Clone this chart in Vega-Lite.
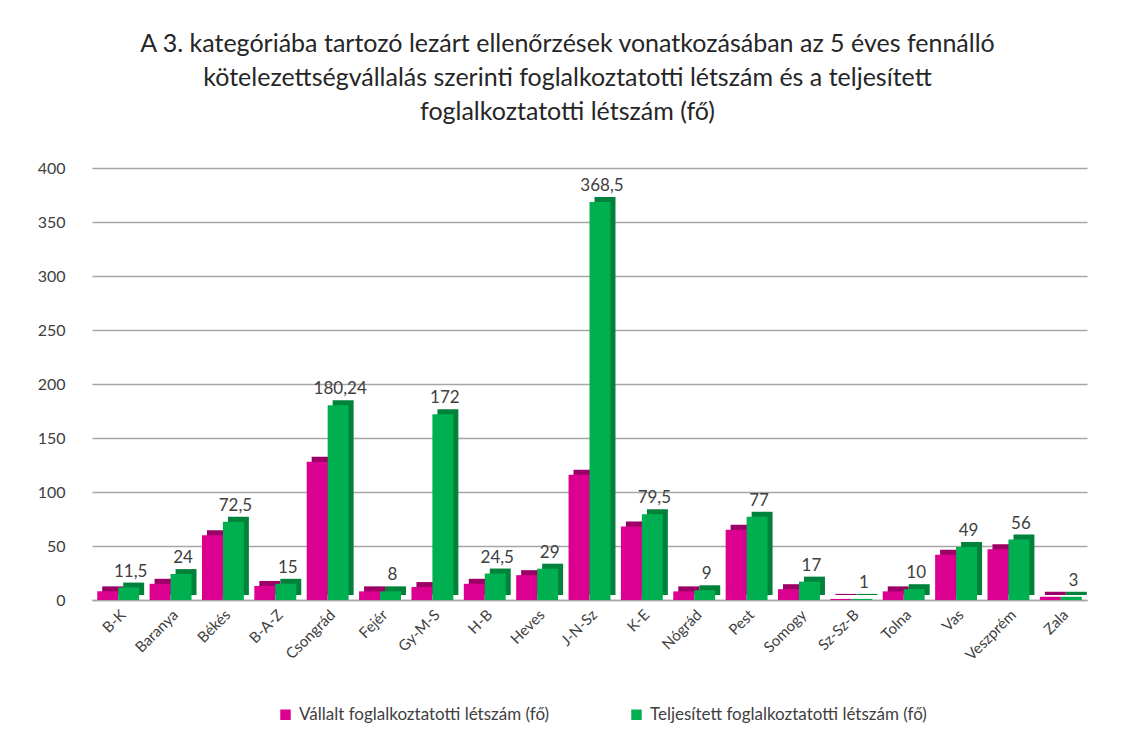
{
  "$schema": "https://vega.github.io/schema/vega-lite/v6.json",
  "width": 995,
  "height": 432,
  "autosize": "none",
  "padding": {"left": 92, "top": 168, "right": 37, "bottom": 142},
  "background": "white",
  "title": {
    "text": [
      "A 3. kategóriába tartozó lezárt ellenőrzések vonatkozásában az 5 éves fennálló",
      "kötelezettségvállalás szerinti foglalkoztatotti létszám és a teljesített",
      "foglalkoztatotti létszám (fő)"
    ],
    "anchor": "middle",
    "frame": "group",
    "dx": -22,
    "offset": 35,
    "font": "Lato",
    "fontSize": 25,
    "fontWeight": "normal",
    "lineHeight": 34,
    "color": "#262626"
  },
  "data": {
    "values": [
      {"megye": "B-K", "sorozat": "Vállalt foglalkoztatotti létszám (fő)", "fo": 8},
      {"megye": "B-K", "sorozat": "Teljesített foglalkoztatotti létszám (fő)", "fo": 11.5},
      {"megye": "Baranya", "sorozat": "Vállalt foglalkoztatotti létszám (fő)", "fo": 15},
      {"megye": "Baranya", "sorozat": "Teljesített foglalkoztatotti létszám (fő)", "fo": 24},
      {"megye": "Békés", "sorozat": "Vállalt foglalkoztatotti létszám (fő)", "fo": 60},
      {"megye": "Békés", "sorozat": "Teljesített foglalkoztatotti létszám (fő)", "fo": 72.5},
      {"megye": "B-A-Z", "sorozat": "Vállalt foglalkoztatotti létszám (fő)", "fo": 13},
      {"megye": "B-A-Z", "sorozat": "Teljesített foglalkoztatotti létszám (fő)", "fo": 15},
      {"megye": "Csongrád", "sorozat": "Vállalt foglalkoztatotti létszám (fő)", "fo": 128},
      {"megye": "Csongrád", "sorozat": "Teljesített foglalkoztatotti létszám (fő)", "fo": 180.24},
      {"megye": "Fejér", "sorozat": "Vállalt foglalkoztatotti létszám (fő)", "fo": 8},
      {"megye": "Fejér", "sorozat": "Teljesített foglalkoztatotti létszám (fő)", "fo": 8},
      {"megye": "Gy-M-S", "sorozat": "Vállalt foglalkoztatotti létszám (fő)", "fo": 12},
      {"megye": "Gy-M-S", "sorozat": "Teljesített foglalkoztatotti létszám (fő)", "fo": 172},
      {"megye": "H-B", "sorozat": "Vállalt foglalkoztatotti létszám (fő)", "fo": 15},
      {"megye": "H-B", "sorozat": "Teljesített foglalkoztatotti létszám (fő)", "fo": 24.5},
      {"megye": "Heves", "sorozat": "Vállalt foglalkoztatotti létszám (fő)", "fo": 23},
      {"megye": "Heves", "sorozat": "Teljesített foglalkoztatotti létszám (fő)", "fo": 29},
      {"megye": "J-N-Sz", "sorozat": "Vállalt foglalkoztatotti létszám (fő)", "fo": 116},
      {"megye": "J-N-Sz", "sorozat": "Teljesített foglalkoztatotti létszám (fő)", "fo": 368.5},
      {"megye": "K-E", "sorozat": "Vállalt foglalkoztatotti létszám (fő)", "fo": 68},
      {"megye": "K-E", "sorozat": "Teljesített foglalkoztatotti létszám (fő)", "fo": 79.5},
      {"megye": "Nógrád", "sorozat": "Vállalt foglalkoztatotti létszám (fő)", "fo": 8},
      {"megye": "Nógrád", "sorozat": "Teljesített foglalkoztatotti létszám (fő)", "fo": 9},
      {"megye": "Pest", "sorozat": "Vállalt foglalkoztatotti létszám (fő)", "fo": 65},
      {"megye": "Pest", "sorozat": "Teljesített foglalkoztatotti létszám (fő)", "fo": 77},
      {"megye": "Somogy", "sorozat": "Vállalt foglalkoztatotti létszám (fő)", "fo": 10},
      {"megye": "Somogy", "sorozat": "Teljesített foglalkoztatotti létszám (fő)", "fo": 17},
      {"megye": "Sz-Sz-B", "sorozat": "Vállalt foglalkoztatotti létszám (fő)", "fo": 1},
      {"megye": "Sz-Sz-B", "sorozat": "Teljesített foglalkoztatotti létszám (fő)", "fo": 1},
      {"megye": "Tolna", "sorozat": "Vállalt foglalkoztatotti létszám (fő)", "fo": 8},
      {"megye": "Tolna", "sorozat": "Teljesített foglalkoztatotti létszám (fő)", "fo": 10},
      {"megye": "Vas", "sorozat": "Vállalt foglalkoztatotti létszám (fő)", "fo": 42},
      {"megye": "Vas", "sorozat": "Teljesített foglalkoztatotti létszám (fő)", "fo": 49},
      {"megye": "Veszprém", "sorozat": "Vállalt foglalkoztatotti létszám (fő)", "fo": 47},
      {"megye": "Veszprém", "sorozat": "Teljesített foglalkoztatotti létszám (fő)", "fo": 56},
      {"megye": "Zala", "sorozat": "Vállalt foglalkoztatotti létszám (fő)", "fo": 3},
      {"megye": "Zala", "sorozat": "Teljesített foglalkoztatotti létszám (fő)", "fo": 3}
    ]
  },
  "encoding": {
    "x": {
      "field": "megye",
      "type": "nominal",
      "sort": null,
      "scale": {"paddingInner": 0.2, "paddingOuter": 0.1},
      "axis": {
        "title": null,
        "labelAngle": -45,
        "labelFont": "Lato",
        "labelFontSize": 15,
        "labelColor": "#404040",
        "labelPadding": 7,
        "ticks": false,
        "domainColor": "#a6a6a6",
        "domainWidth": 1.5,
        "grid": false
      }
    },
    "y": {
      "field": "fo",
      "type": "quantitative",
      "scale": {"domain": [0, 400], "nice": false},
      "axis": {
        "title": null,
        "values": [0, 50, 100, 150, 200, 250, 300, 350, 400],
        "labelFont": "Lato",
        "labelFontSize": 16,
        "labelColor": "#404040",
        "labelPadding": 27,
        "ticks": false,
        "domain": false,
        "gridColor": "#a6a6a6",
        "gridWidth": 1.5
      }
    }
  },
  "layer": [
    {
      "transform": [{"filter": "datum.sorozat === 'Vállalt foglalkoztatotti létszám (fő)'"}],
      "mark": {"type": "bar", "width": {"band": 0.5}, "xOffset": -5.5, "yOffset": -5, "color": "#9c0066"}
    },
    {
      "transform": [{"filter": "datum.sorozat === 'Teljesített foglalkoztatotti létszám (fő)'"}],
      "mark": {"type": "bar", "width": {"band": 0.5}, "xOffset": 15.5, "yOffset": -5, "color": "#00823a"}
    },
    {
      "mark": {"type": "bar"},
      "encoding": {
        "xOffset": {
          "field": "sorozat",
          "type": "nominal",
          "sort": ["Vállalt foglalkoztatotti létszám (fő)", "Teljesített foglalkoztatotti létszám (fő)"]
        },
        "color": {
          "field": "sorozat",
          "type": "nominal",
          "sort": ["Vállalt foglalkoztatotti létszám (fő)", "Teljesített foglalkoztatotti létszám (fő)"],
          "scale": {"range": ["#dc0090", "#00b050"]},
          "legend": {
            "title": null,
            "orient": "none",
            "direction": "horizontal",
            "legendX": 185,
            "legendY": 538,
            "symbolType": "square",
            "symbolSize": 110,
            "symbolStrokeWidth": 0,
            "labelFont": "Lato",
            "labelFontSize": 17,
            "labelColor": "#404040",
            "labelLimit": 400,
            "columnPadding": 78,
            "labelOffset": 5
          }
        }
      }
    },
    {
      "transform": [{"filter": "datum.sorozat === 'Teljesített foglalkoztatotti létszám (fő)'"}],
      "mark": {"type": "text", "xOffset": 12.5, "dy": -16, "font": "Lato", "fontSize": 17, "color": "#404040"},
      "encoding": {
        "text": {"field": "fo", "type": "quantitative", "format": "~g"}
      }
    }
  ],
  "config": {
    "view": {"stroke": null},
    "locale": {
      "number": {"decimal": ",", "thousands": " ", "grouping": [3], "currency": ["", " Ft"]}
    }
  }
}
